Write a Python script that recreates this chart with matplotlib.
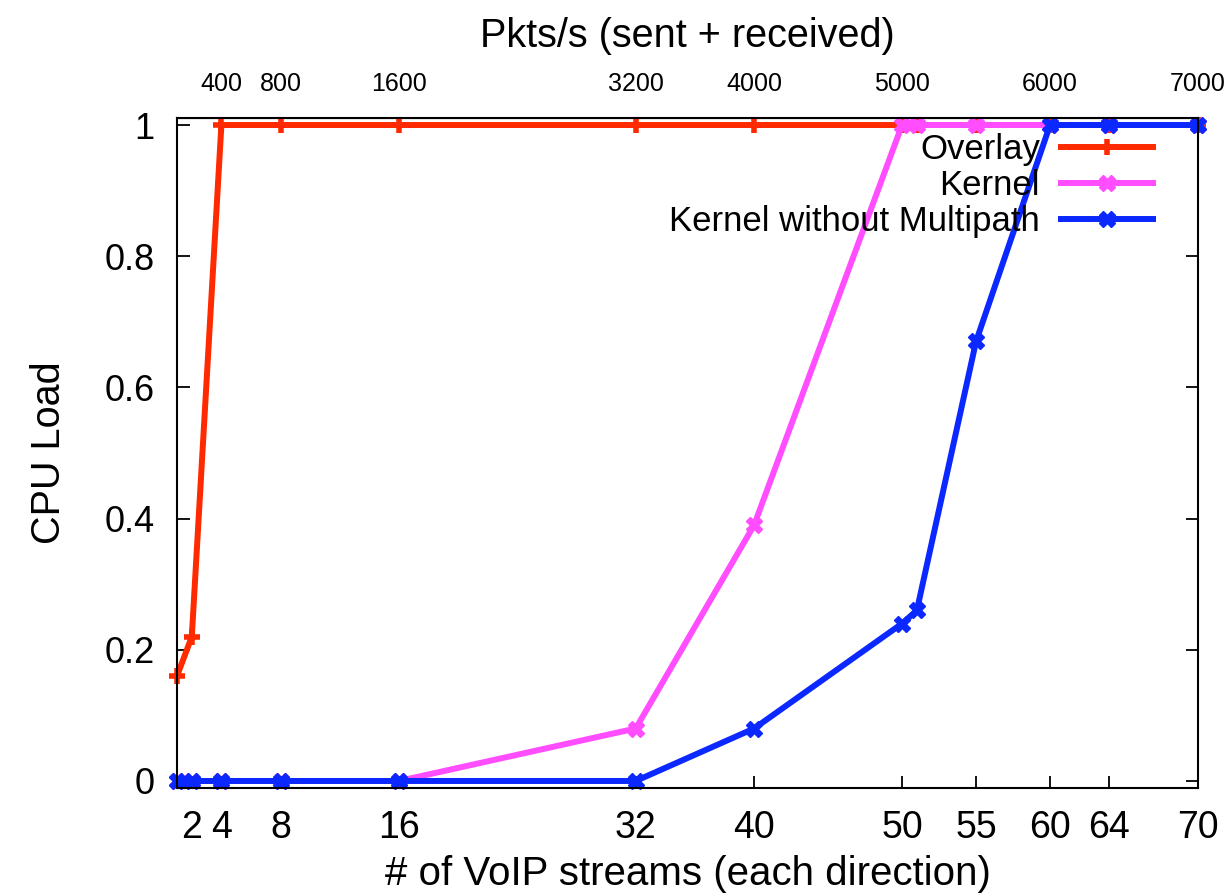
import matplotlib
matplotlib.use('Agg')
import matplotlib.pyplot as plt

plt.rcParams['font.family'] = ['Liberation Sans', 'DejaVu Sans']

# number of VoIP streams (each direction)
streams = [1, 2, 4, 8, 16, 32, 40, 50, 51, 55, 60, 64, 70]
# CPU load per setup
overlay = [0.16, 0.22, 1, 1, 1, 1, 1, 1, 1, 1, 1, 1, 1]
kernel = [0, 0, 0, 0, 0, 0.08, 0.39, 1, 1, 1, 1, 1, 1]
kernel_no_mp = [0, 0, 0, 0, 0, 0, 0.08, 0.24, 0.26, 0.67, 1, 1, 1]

bottom_ticks = [2, 4, 8, 16, 32, 40, 50, 55, 60, 64, 70]
top_ticks = [400, 800, 1600, 3200, 4000, 5000, 6000, 7000]
y_ticks = [0, 0.2, 0.4, 0.6, 0.8, 1]
y_labels = ['0', '0.2', '0.4', '0.6', '0.8', '1']

fig = plt.figure(figsize=(12.28, 8.94), dpi=100)
ax = fig.add_axes([177 / 1228, 1 - 788 / 894, 1021 / 1228, 670 / 894])

lw = 4.3
ax.plot(streams, overlay, color='#ff2a00', lw=lw, marker='+', ms=11, mew=4,
        clip_on=False, label='Overlay')
ax.plot(streams, kernel, color='#ff4dff', lw=lw, marker='X', ms=12,
        clip_on=False, label='Kernel')
ax.plot(streams, kernel_no_mp, color='#0a28ff', lw=lw, marker='X', ms=12,
        clip_on=False, label='Kernel without Multipath')

ax.set_xlim(1, 70)
ax.set_ylim(-0.0107, 1.0107)
ax.set_xticks(bottom_ticks)
ax.set_yticks(y_ticks)
ax.set_yticklabels(y_labels)
ax.tick_params(axis='x', direction='in', length=9, width=1.3, labelsize=27, pad=16)
ax.tick_params(axis='y', direction='in', length=9, width=1.3, labelsize=26,
               right=True, pad=16)
for s in ax.spines.values():
    s.set_linewidth(1.5)

ax.set_xlabel('# of VoIP streams (each direction)', fontsize=29, labelpad=6)
ax.set_ylabel('CPU Load', fontsize=28.5, labelpad=26)

# top axis: packets per second
top = ax.secondary_xaxis('top', functions=(lambda x: x * 100, lambda x: x / 100))
top.set_xticks(top_ticks)
top.set_xticklabels([str(t) for t in top_ticks])
top.tick_params(direction='in', length=9, width=1.3, labelsize=18, pad=16)
top.set_xlabel('Pkts/s (sent + received)', fontsize=28.5, labelpad=18)

ax.legend(loc='upper right', bbox_to_anchor=(1170 / 1228, 1 - 116 / 894),
          bbox_transform=fig.transFigure, frameon=False, markerfirst=False,
          fontsize=25, handlelength=2.65, handletextpad=0.6, borderpad=0,
          labelspacing=0.08, numpoints=1)

fig.savefig('out.png', dpi=100)
